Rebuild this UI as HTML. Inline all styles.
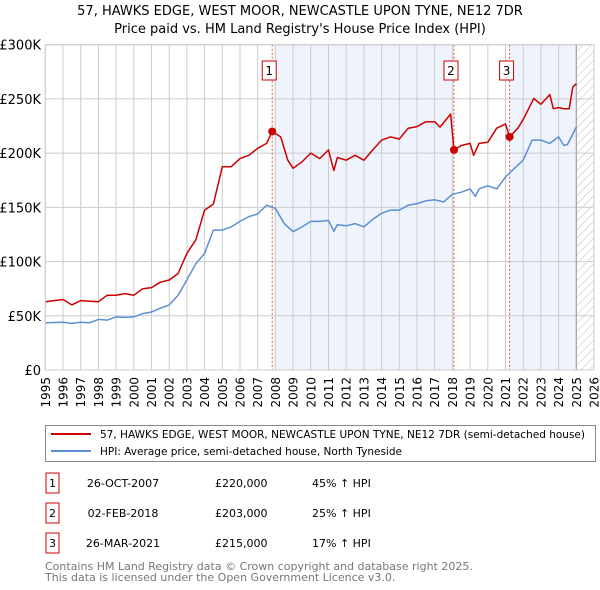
<!DOCTYPE html>
<html><head><meta charset="utf-8"><style>
body{margin:0;background:#fff;font-family:"Liberation Sans",sans-serif;}
#wrap{position:relative;width:600px;height:590px;overflow:hidden;}
svg text{font-family:"DejaVu Sans","Liberation Sans",sans-serif;}
</style></head><body><div id="wrap">
<svg id="chart" width="600" height="590"></svg>
</div>
<script>
const xTickYears=[1995,1996,1997,1998,1999,2000,2001,2002,2003,2004,2005,2006,2007,2008,2009,2010,2011,2012,2013,2014,2015,2016,2017,2018,2019,2020,2021,2022,2023,2024,2025,2026];
const yTickValues=[0,50000,100000,150000,200000,250000,300000];
const yTickLabels=["£0","£50K","£100K","£150K","£200K","£250K","£300K"];
const hpiYears=[1995,1996,1996.5,1997,1997.5,1998,1998.5,1999,1999.5,2000,2000.5,2001,2001.5,2002,2002.5,2003,2003.5,2004,2004.5,2005,2005.5,2006,2006.5,2007,2007.5,2008,2008.5,2009,2009.5,2010,2010.5,2011,2011.3,2011.5,2012,2012.5,2013,2013.5,2014,2014.5,2015,2015.5,2016,2016.5,2017,2017.5,2018,2018.5,2019,2019.3,2019.5,2020,2020.5,2021,2021.5,2022,2022.5,2023,2023.5,2024,2024.3,2024.5,2025];
const hpiValues=[43600,44000,43000,44000,43500,46700,46000,49000,48500,49000,52000,53500,57000,60000,69000,83000,98000,107500,129000,129000,132000,137000,141500,144000,152000,149000,135000,127500,132000,137000,137000,138000,128000,134000,133000,135000,132000,139000,144500,147500,147500,152000,153500,156000,157000,155000,162000,164000,167000,160000,167000,170000,167000,178000,186000,193500,212000,212000,209000,215000,207000,208000,224000];
const priceYears=[1995,1996,1996.5,1997,1998,1998.5,1999,1999.5,2000,2000.5,2001,2001.5,2002,2002.5,2003,2003.5,2004,2004.5,2005,2005.5,2006,2006.5,2007,2007.5,2007.82,2008.3,2008.7,2009,2009.5,2010,2010.5,2011,2011.3,2011.5,2012,2012.5,2013,2013.5,2014,2014.5,2015,2015.5,2016,2016.5,2017,2017.3,2017.9,2018.09,2018.5,2019,2019.2,2019.5,2020,2020.5,2021,2021.23,2021.7,2022,2022.6,2023,2023.5,2023.7,2024,2024.3,2024.6,2024.8,2025];
const priceValues=[63000,65000,60000,64000,63000,69000,69000,70500,69000,75000,76000,81000,83000,89000,107600,120000,147500,153000,187500,187500,195000,198000,204500,209000,220000,215000,193500,186000,192000,200000,195000,203000,184000,196000,193500,198000,193500,203000,212000,215000,213000,223000,224500,229000,229000,224000,236000,203000,207000,209000,198000,209000,210000,223000,227000,215000,223000,231000,250500,245000,254000,241000,242000,241000,241000,261000,264000];
const saleYears=[2007.82,2018.09,2021.23];
const salePrices=[220000,203000,215000];
const saleLabels=["1","2","3"];
const saleDates=["26-OCT-2007","02-FEB-2018","26-MAR-2021"];
const salePriceText=["£220,000","£203,000","£215,000"];
const saleHpiText=["45% ↑ HPI","25% ↑ HPI","17% ↑ HPI"];

const X0=45.3,X1=594,Y0=370,Y1=44.7;
const xS=y=>X0+(y-1995)*(X1-X0)/31;
const yS=v=>Y0-v*(Y0-Y1)/300000;
const svg=document.getElementById('chart');
const NS='http://www.w3.org/2000/svg';
function mk(t,a,parent){const e=document.createElementNS(NS,t);for(const k in a)e.setAttribute(k,a[k]);(parent||svg).appendChild(e);return e;}

let t=mk('text',{x:300,y:15,'text-anchor':'middle','font-size':13,fill:'#000'});t.textContent="57, HAWKS EDGE, WEST MOOR, NEWCASTLE UPON TYNE, NE12 7DR";


t=mk('text',{x:300,y:33,'text-anchor':'middle','font-size':13,fill:'#000'});t.textContent="Price paid vs. HM Land Registry's House Price Index (HPI)";



const defs=mk('defs',{});
const pat=mk('pattern',{id:'hatch',width:6,height:6,patternUnits:'userSpaceOnUse',patternTransform:'rotate(45)'},defs);
mk('line',{x1:0,y1:0,x2:0,y2:6,stroke:'#bbb','stroke-width':1},pat);
let r=mk('rect',{x:xS(saleYears[0])+2,y:Y1,width:xS(saleYears[1])-xS(saleYears[0])-2,height:Y0-Y1,fill:'#eef3fc'});


r=mk('rect',{x:xS(saleYears[2]),y:Y1,width:xS(2025.0)-xS(saleYears[2]),height:Y0-Y1,fill:'#eef3fc'});


r=mk('rect',{x:xS(2025.0),y:Y1,width:X1-xS(2025.0),height:Y0-Y1,fill:'url(#hatch)'});



xTickYears.forEach(yr=>{
  const l=mk('line',{x1:xS(yr),x2:xS(yr),y1:Y1,y2:Y0,stroke:'#ccc','stroke-width':1});
  
  
  const tx=mk('text',{x:0,y:0,'text-anchor':'end','font-size':12,fill:'#000',transform:'translate('+(xS(yr)+4.5)+',377) rotate(-90)'});tx.textContent=yr;
  
  
});
yTickValues.forEach((v,i)=>{
  const l=mk('line',{x1:X0,x2:X1,y1:yS(v),y2:yS(v),stroke:'#ccc','stroke-width':1});
  
  
  const tx=mk('text',{x:41,y:yS(v)+5,'text-anchor':'end','font-size':13,fill:'#000'});tx.textContent=yTickLabels[i];
  
  
});
let b=mk('line',{x1:xS(2025.0),x2:xS(2025.0),y1:Y1,y2:Y0,stroke:'#999','stroke-width':1});



saleYears.forEach((yr,i)=>{
  const l=mk('line',{x1:xS(yr),x2:xS(yr),y1:Y1,y2:Y0,stroke:'#e05050','stroke-width':1,'stroke-dasharray':'2,2'});
  
  
});

function path(xs,vs,color,name){
  const d=xs.map((x,i)=>(i?'L':'M')+xS(x).toFixed(1)+','+yS(vs[i]).toFixed(1)).join('');
  const p=mk('path',{d:d,fill:'none',stroke:color,'stroke-width':1.5,'stroke-linejoin':'round'});
  
  
}
path(hpiYears,hpiValues,'#5b8fd4','hpi-line');
path(priceYears,priceValues,'#cc0000','price-paid-line');

saleYears.forEach((yr,i)=>{
  const c=mk('circle',{cx:xS(yr),cy:yS(salePrices[i]),r:4,fill:'#cc0000'});
  
  
  const g=mk('rect',{x:xS(yr)-10,y:61,width:14,height:19,fill:'#fff',stroke:'#cc0000','stroke-width':1});
  
  
  const tx=mk('text',{x:xS(yr)-3,y:75,'text-anchor':'middle','font-size':12,fill:'#000'});tx.textContent=saleLabels[i];
  
  
});
let fr=mk('rect',{x:X0,y:Y1,width:X1-X0,height:Y0-Y1,fill:'none',stroke:'#ccc','stroke-width':1});



let lg=mk('rect',{x:45.5,y:425.5,width:550,height:36,fill:'#fff',stroke:'#888','stroke-width':1});


let ll=mk('line',{x1:51,x2:91,y1:434,y2:434,stroke:'#cc0000','stroke-width':2});


ll=mk('line',{x1:51,x2:91,y1:451,y2:451,stroke:'#5b8fd4','stroke-width':2});


t=mk('text',{x:100,y:438,'font-size':11,fill:'#000',textLength:485,lengthAdjust:'spacingAndGlyphs'});t.textContent="57, HAWKS EDGE, WEST MOOR, NEWCASTLE UPON TYNE, NE12 7DR (semi-detached house)";


t=mk('text',{x:100,y:455,'font-size':11,fill:'#000',textLength:302,lengthAdjust:'spacingAndGlyphs'});t.textContent="HPI: Average price, semi-detached house, North Tyneside";



saleLabels.forEach((lab,i)=>{
  const cy=483+i*30;
  const g=mk('rect',{x:46,y:cy-10,width:13,height:20,fill:'#fff',stroke:'#cc0000','stroke-width':1});
  
  
  let tx=mk('text',{x:52.5,y:cy+4,'text-anchor':'middle','font-size':11,fill:'#000'});tx.textContent=lab;
  
  
  tx=mk('text',{x:123,y:cy+4,'text-anchor':'middle','font-size':11,fill:'#000'});tx.textContent=saleDates[i];
  
  
  tx=mk('text',{x:215,y:cy+4,'font-size':11,fill:'#000'});tx.textContent=salePriceText[i];
  
  
  tx=mk('text',{x:312,y:cy+4,'font-size':11,fill:'#000'});tx.textContent=saleHpiText[i];
  
  
});
t=mk('text',{x:45,y:570,'font-size':11,fill:'#777'});t.textContent="Contains HM Land Registry data © Crown copyright and database right 2025.";


t=mk('text',{x:45,y:581,'font-size':11,fill:'#777'});t.textContent="This data is licensed under the Open Government Licence v3.0.";


</script>
</body></html>
